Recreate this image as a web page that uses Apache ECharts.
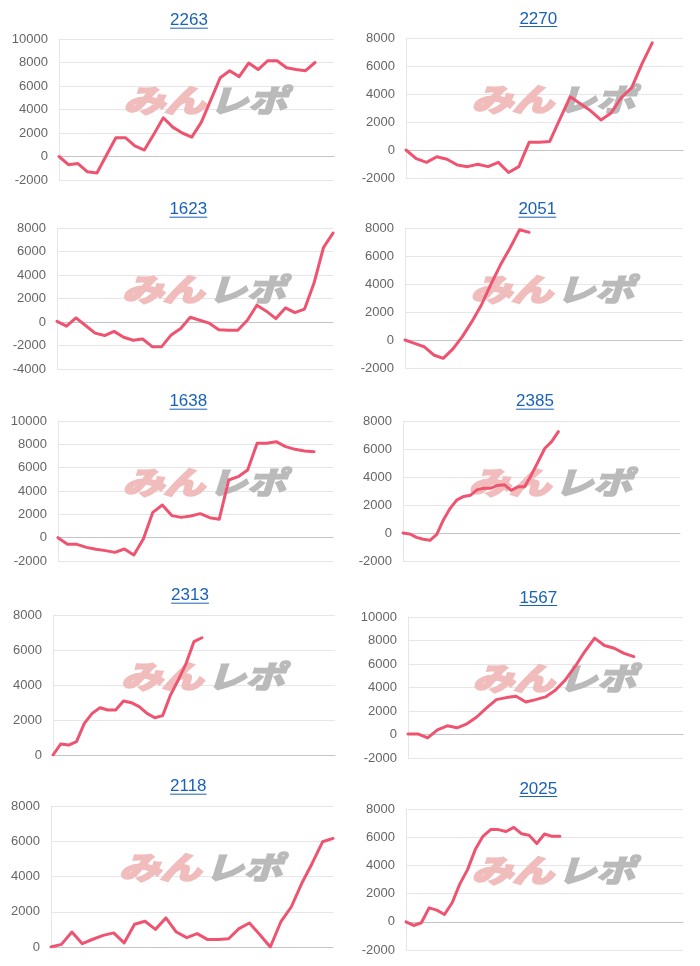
<!DOCTYPE html>
<html><head><meta charset="utf-8">
<script src="https://cdn.jsdelivr.net/npm/echarts@6/dist/echarts.min.js"></script>
<style>html,body{margin:0;padding:0;background:#fff}#c{width:700px;height:966px}</style>
</head><body><div id="c"></div>
<script>
// ---- data ----
const titles = ['2263','2270','1623','2051','1638','2385','2313','1567','2118','2025'];
const categoryCounts = [30, 28, 30, 30, 30, 42, 37, 29, 28, 37];
const yMin = [-2000, -2000, -4000, -2000, -2000, -2000, 0, -2000, 0, -2000];
const yMax = [10000, 8000, 8000, 8000, 10000, 8000, 8000, 10000, 8000, 8000];
const yInterval = 2000;

const d2263 = [0,-700,-600,-1300,-1400,100,1600,1600,900,550,1900,3300,2500,2000,1650,2900,4800,6700,7300,6800,7950,7400,8150,8150,7550,7400,7300,8000];
const d2270 = [0,-620,-880,-480,-660,-1070,-1190,-1020,-1190,-880,-1610,-1190,550,550,600,2200,3800,3300,2800,2150,2650,3750,4450,6150,7650];
const d1623 = [50,-350,350,-300,-950,-1150,-800,-1300,-1550,-1450,-2100,-2100,-1100,-550,400,150,-100,-650,-700,-700,150,1430,920,290,1200,800,1090,3290,6340,7570];
const d2051 = [0,-240,-480,-1070,-1310,-650,240,1310,2500,3990,5370,6570,7880,7690];
const d1638 = [0,-570,-570,-830,-1000,-1110,-1260,-970,-1490,-110,2170,2800,1890,1740,1860,2060,1710,1570,4940,5230,5800,8090,8090,8230,7800,7570,7430,7370];
const d2385 = [0,-70,-310,-450,-520,-100,950,1780,2370,2610,2700,3100,3200,3200,3400,3450,3050,3300,3300,4150,5100,6050,6530,7240];
const d2313 = [0,630,570,760,1810,2380,2700,2570,2570,3090,2990,2760,2380,2130,2250,3430,4290,5240,6480,6700];
const d1567 = [50,50,-290,400,740,570,910,1490,2260,2970,3140,3260,2770,2970,3200,3770,4630,5770,7060,8200,7570,7340,6910,6630];
const d2118 = [0,150,850,190,440,660,800,230,1290,1460,1000,1650,850,530,760,420,420,470,1040,1360,700,0,1420,2270,3600,4740,5970,6160];
const d2025 = [0,-260,-70,990,830,520,1350,2690,3700,5120,6060,6540,6540,6400,6700,6250,6140,5550,6230,6060,6060];
const seriesData = [d2263,d2270,d1623,d2051,d1638,d2385,d2313,d1567,d2118,d2025];

// ---- layout ----
const layout = [
  {left:59,  top:39,  width:275, height:141, tx:189,   tb:26.7},
  {left:406, top:38,  width:277, height:140, tx:538.3, tb:25},
  {left:57,  top:228, width:276, height:141, tx:188.3, tb:215.7},
  {left:405, top:228, width:277, height:140, tx:537.3, tb:215.7},
  {left:58,  top:421, width:275, height:140, tx:188.3, tb:407.7},
  {left:403, top:421, width:277, height:140, tx:535,   tb:407.7},
  {left:53,  top:615, width:282, height:140, tx:190,   tb:601.7},
  {left:408, top:617, width:275, height:141, tx:538.3, tb:604},
  {left:51,  top:806, width:282, height:141, tx:188.3, tb:792.7},
  {left:406, top:809, width:277, height:141, tx:538.3, tb:795}
];

const FONT = '"Liberation Sans", Arial, Helvetica, sans-serif';
const titleFont = '17px ' + FONT;
const mctx = document.createElement('canvas').getContext('2d');
mctx.font = titleFont;

const grids = [], xAxes = [], yAxes = [], series = [], graphics = [];
layout.forEach((L, i) => {
  grids.push({left: L.left, top: L.top, width: L.width, height: L.height});
  const cats = Array.from({length: categoryCounts[i]}, (_, k) => String(k + 1));
  xAxes.push({
    type: 'category', gridIndex: i, data: cats, boundaryGap: false,
    axisLine: {show: true, onZero: true, lineStyle: {color: '#c4c4c4', width: 1}},
    axisTick: {show: false}, axisLabel: {show: false}, splitLine: {show: false}
  });
  yAxes.push({
    type: 'value', gridIndex: i, min: yMin[i], max: yMax[i], interval: yInterval,
    axisLine: {show: true, lineStyle: {color: '#e6e6e6', width: 1}},
    axisTick: {show: false},
    axisLabel: {color: '#666', fontSize: 13, fontFamily: FONT, margin: 11,
      formatter: v => String(v)},
    splitLine: {show: true, lineStyle: {color: '#e6e6e6', width: 1}}
  });
  series.push({
    type: 'line', xAxisIndex: i, yAxisIndex: i, data: seriesData[i],
    symbol: 'none', smooth: false, z: 5,
    lineStyle: {color: '#ee5470', width: 3, join: 'round', cap: 'round'}
  });
  // title + underline
  const w = mctx.measureText(titles[i]).width;
  graphics.push({type: 'text', x: L.tx, y: L.tb - 6, z: 10,
    style: {text: titles[i], font: titleFont, fill: '#1a62b8', align: 'center', verticalAlign: 'middle'}});
  graphics.push({type: 'line', z: 10,
    shape: {x1: L.tx - w / 2, y1: L.tb + 1.5, x2: L.tx + w / 2, y2: L.tb + 1.5},
    style: {stroke: '#1a62b8', lineWidth: 1}});
  // watermark
  const cx = L.left + L.width / 2 + 11, cy = L.top + L.height / 2 - 9;
  const wmFont = 'italic bold 31px "Noto Sans CJK JP", sans-serif';
  graphics.push({type: 'text', x: cx - 84, y: cy, scaleX: 1.32, z: 1,
    style: {text: 'みん', font: wmFont, fill: '#f1bcbc', stroke: '#f1bcbc', lineWidth: 2.5,
      align: 'left', verticalAlign: 'middle'}});
  graphics.push({type: 'text', x: cx + 2, y: cy, scaleX: 1.25, z: 1,
    style: {text: 'レポ', font: wmFont, fill: '#bababa', stroke: '#bababa', lineWidth: 2,
      align: 'left', verticalAlign: 'middle'}});
});

const chart = echarts.init(document.getElementById('c'), null, {renderer: 'canvas'});
chart.setOption({
  animation: false,
  backgroundColor: '#fff',
  grid: grids, xAxis: xAxes, yAxis: yAxes, series: series,
  graphic: {elements: graphics}
});
</script>
</body></html>
